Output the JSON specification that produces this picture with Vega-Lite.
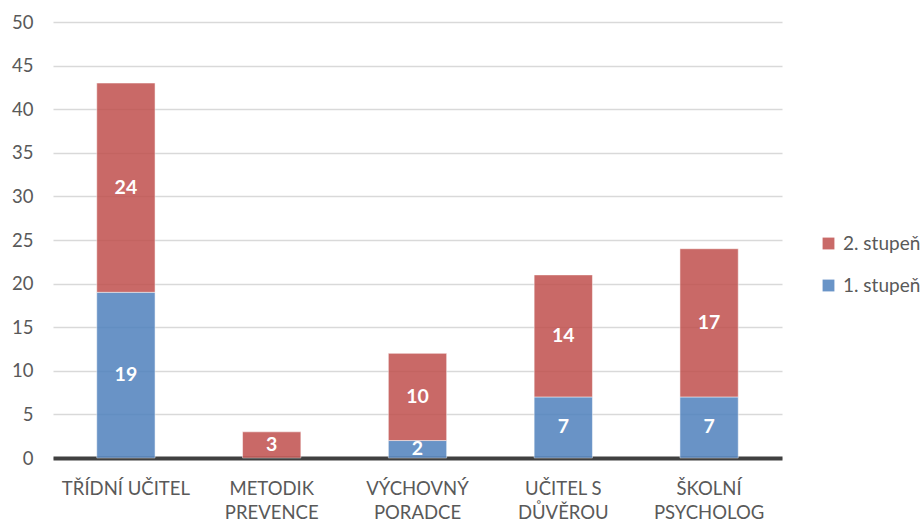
{
  "$schema": "https://vega.github.io/schema/vega-lite/v6.json",
  "autosize": "none",
  "width": 729,
  "height": 436,
  "padding": {"left": 53, "top": 22, "right": 142, "bottom": 65},
  "background": "white",
  "config": {
    "view": {"stroke": null},
    "font": "Lato",
    "axis": {"labelFont": "Lato", "labelFontSize": 18.5, "labelColor": "#595959"}
  },
  "data": {
    "values": [
      {"role": "TŘÍDNÍ UČITEL", "series": "1. stupeň", "ord": 1, "value": 19},
      {"role": "TŘÍDNÍ UČITEL", "series": "2. stupeň", "ord": 2, "value": 24},
      {"role": "METODIK|PREVENCE", "series": "1. stupeň", "ord": 1, "value": 0},
      {"role": "METODIK|PREVENCE", "series": "2. stupeň", "ord": 2, "value": 3},
      {"role": "VÝCHOVNÝ|PORADCE", "series": "1. stupeň", "ord": 1, "value": 2},
      {"role": "VÝCHOVNÝ|PORADCE", "series": "2. stupeň", "ord": 2, "value": 10},
      {"role": "UČITEL S|DŮVĚROU", "series": "1. stupeň", "ord": 1, "value": 7},
      {"role": "UČITEL S|DŮVĚROU", "series": "2. stupeň", "ord": 2, "value": 14},
      {"role": "ŠKOLNÍ|PSYCHOLOG", "series": "1. stupeň", "ord": 1, "value": 7},
      {"role": "ŠKOLNÍ|PSYCHOLOG", "series": "2. stupeň", "ord": 2, "value": 17}
    ]
  },
  "transform": [
    {"stack": "value", "groupby": ["role"], "sort": [{"field": "ord", "order": "ascending"}], "as": ["v0", "v1"]},
    {"calculate": "(datum.v0 + datum.v1) / 2", "as": "mid"}
  ],
  "encoding": {
    "x": {
      "field": "role",
      "type": "nominal",
      "sort": null,
      "scale": {"paddingInner": 0.6, "paddingOuter": 0.3},
      "axis": {
        "title": null,
        "labelAngle": 0,
        "labelExpr": "split(datum.label, '|')",
        "labelLineHeight": 24,
        "labelPadding": 21,
        "ticks": false,
        "domain": true,
        "domainColor": "#404040",
        "domainWidth": 4,
        "grid": false,
        "labelBaseline": "top"
      }
    }
  },
  "layer": [
    {
      "transform": [{"filter": "datum.value > 0"}],
      "mark": {"type": "bar", "opacity": 0.85, "stroke": "#ffffff", "strokeOpacity": 0.5, "strokeWidth": 1},
      "encoding": {
        "y": {
          "field": "v0",
          "type": "quantitative",
          "scale": {"domain": [0, 50]},
          "axis": {
            "title": null,
            "values": [0, 5, 10, 15, 20, 25, 30, 35, 40, 45, 50],
            "domain": false,
            "ticks": false,
            "gridColor": "#D9D9D9",
            "gridWidth": 1.5,
            "labelPadding": 20
          }
        },
        "y2": {"field": "v1"},
        "color": {
          "field": "series",
          "type": "nominal",
          "scale": {"domain": ["2. stupeň", "1. stupeň"], "range": ["#C0504D", "#4F81BD"]},
          "legend": {
            "title": null,
            "orient": "none",
            "legendX": 766,
            "legendY": 212,
            "symbolType": "square",
            "symbolSize": 140,
            "symbolOpacity": 0.85,
            "symbolStrokeWidth": 0,
            "labelFontSize": 19,
            "labelFont": "Lato",
            "labelColor": "#595959",
            "labelLimit": 200,
            "rowPadding": 22,
            "labelOffset": 5
          }
        }
      }
    },
    {
      "transform": [{"filter": "datum.value > 0"}],
      "mark": {"type": "text", "color": "white", "fontWeight": "bold", "fontSize": 19.5, "font": "Lato", "baseline": "middle"},
      "encoding": {
        "y": {"field": "mid", "type": "quantitative"},
        "text": {"field": "value", "type": "quantitative"}
      }
    }
  ]
}
